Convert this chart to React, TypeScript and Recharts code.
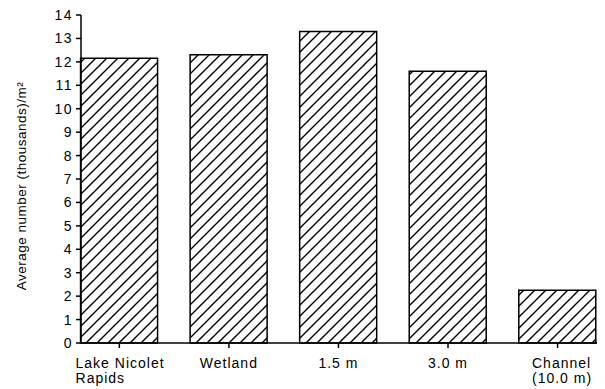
import { BarChart, Bar, XAxis, YAxis } from 'recharts';

const sites = ['Lake Nicolet|Rapids', 'Wetland', '1.5 m', '3.0 m', 'Channel|(10.0 m)'];
const positions = [0, 1, 2, 3, 4];
const density = [12.15, 12.3, 13.3, 11.6, 2.25];
const yTicks = [0, 1, 2, 3, 4, 5, 6, 7, 8, 9, 10, 11, 12, 13, 14];

const data = positions.map((pos, i) => ({ pos, value: density[i] }));

const FONT = '"Liberation Sans", Arial, Helvetica, sans-serif';

function SiteTick(props: any) {
  const { x, y, payload } = props;
  const lines = sites[payload.value].split('|');
  const style = { fontFamily: FONT, fontSize: 14, letterSpacing: 1, fill: '#000' };
  if (lines.length === 1) {
    return (
      <text x={x} y={y + 18} textAnchor="middle" style={style}>
        {lines[0]}
      </text>
    );
  }
  // two-line labels are left aligned within a centred block
  const left = x - (lines[0].length * 7.3) / 2;
  return (
    <text x={left} y={y + 18} textAnchor="start" style={style}>
      <tspan x={left}>{lines[0]}</tspan>
      <tspan x={left} dy={15}>{lines[1]}</tspan>
    </text>
  );
}

export default function App() {
  return (
    <div style={{ position: 'absolute', left: 0, top: 0, background: '#fff' }}>
      <BarChart
        width={605}
        height={389}
        data={data}
        margin={{ top: 15, right: 8, bottom: 6, left: 15 }}
      >
        <defs>
          <pattern id="hatch" patternUnits="userSpaceOnUse" width={11} height={11}>
            <path d="M-1,1 l2,-2 M0,11 l11,-11 M10,12 l2,-2" stroke="#000" strokeWidth={1.4} />
          </pattern>
        </defs>
        <XAxis
          xAxisId="bottom"
          dataKey="pos"
          type="number"
          domain={[-0.35, 4.36]}
          ticks={positions}
          height={40}
          tickSize={5}
          tickMargin={2}
          interval={0}
          stroke="#000"
          strokeWidth={1.5}
          tick={<SiteTick />}
        />
        <XAxis
          xAxisId="top"
          orientation="top"
          dataKey="pos"
          type="number"
          domain={[-0.35, 4.36]}
          height={0}
          tick={false}
          tickLine={false}
          stroke="#000"
          strokeWidth={1.5}
        />
        <YAxis
          yAxisId="left"
          domain={[0, 14]}
          ticks={yTicks}
          interval={0}
          width={66}
          tickSize={5}
          tickMargin={3}
          stroke="#000"
          strokeWidth={1.5}
          tick={{ fill: '#000', fontSize: 14, fontFamily: FONT, letterSpacing: 1.5 }}
          label={{
            value: 'Average number (thousands)/m²',
            angle: -90,
            position: 'insideLeft',
            dx: 1,
            dy: 7,
            style: { fill: '#000', fontSize: 13.5, fontFamily: FONT, letterSpacing: 0.5, textAnchor: 'middle' },
          }}
        />
        <YAxis
          yAxisId="right"
          orientation="right"
          domain={[0, 14]}
          width={0}
          tick={false}
          tickLine={false}
          stroke="#000"
          strokeWidth={1.5}
        />
        <Bar
          xAxisId="bottom"
          yAxisId="left"
          dataKey="value"
          barSize={77}
          fill="url(#hatch)"
          stroke="#000"
          strokeWidth={1.5}
          isAnimationActive={false}
        />
      </BarChart>
    </div>
  );
}
